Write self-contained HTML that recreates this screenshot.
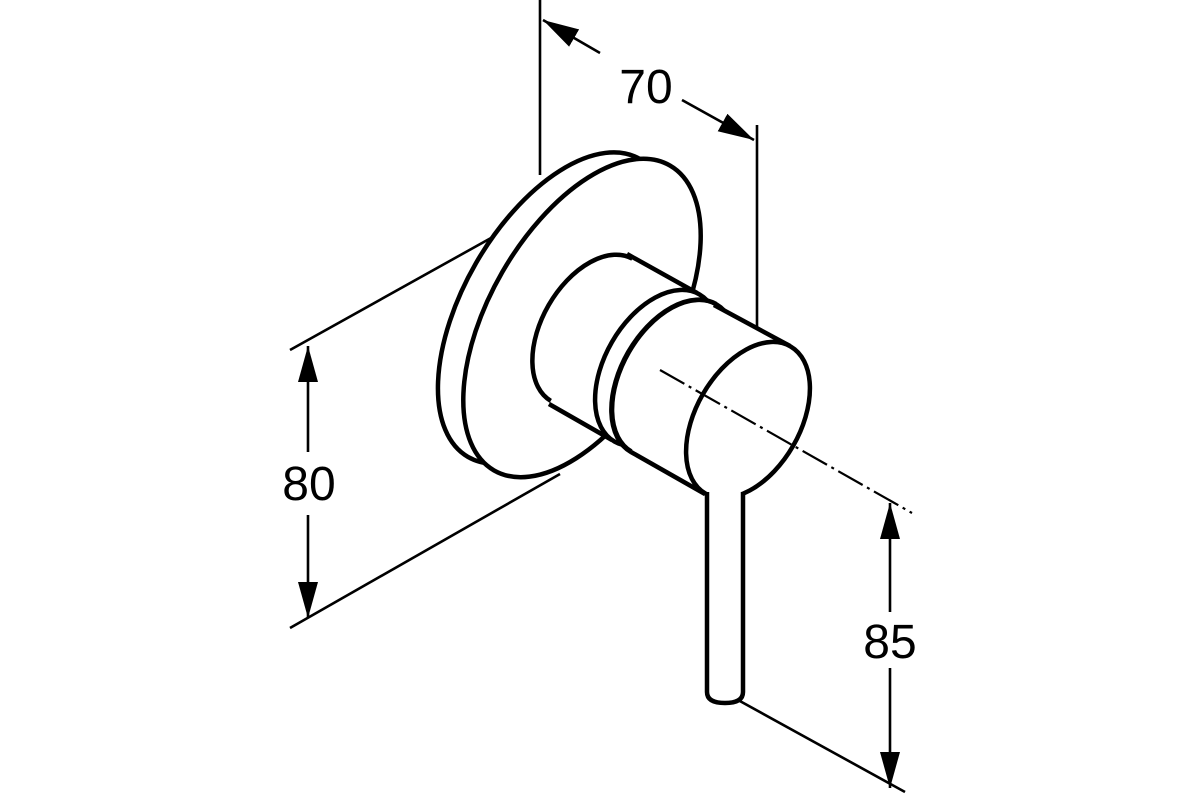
<!DOCTYPE html>
<html><head><meta charset="utf-8"><style>html,body{margin:0;padding:0;background:#fff}svg{display:block}</style></head>
<body>
<svg width="1200" height="800" viewBox="0 0 1200 800" xmlns="http://www.w3.org/2000/svg">
<defs>
<marker id="a" viewBox="0 0 36 20" refX="36" refY="10" markerWidth="36" markerHeight="20" markerUnits="userSpaceOnUse" orient="auto-start-reverse">
<path d="M0,0 L36,10 L0,20 Z" fill="#000"/>
</marker>
</defs>
<g stroke="#000" fill="none" stroke-width="2.6">
<line x1="540" y1="0" x2="540" y2="175"/>
<line x1="757" y1="125" x2="757" y2="415"/>
<line x1="290" y1="350" x2="552" y2="204"/>
<line x1="290" y1="628" x2="560" y2="474"/>
<line x1="738" y1="700" x2="905" y2="792"/>
<line x1="600" y1="53" x2="543" y2="20" marker-end="url(#a)"/>
<line x1="682" y1="100" x2="754" y2="140" marker-end="url(#a)"/>
<line x1="308" y1="452" x2="308" y2="346" marker-end="url(#a)"/>
<line x1="308" y1="515" x2="308" y2="618" marker-end="url(#a)"/>
<line x1="890" y1="612" x2="890" y2="503" marker-end="url(#a)"/>
<line x1="890" y1="668" x2="890" y2="788" marker-end="url(#a)"/>
</g>
<g stroke="#000" stroke-width="4.5" fill="#fff" stroke-linejoin="round">
<ellipse cx="554" cy="308" rx="90" ry="172" transform="rotate(30 554 308)"/>
<ellipse cx="582" cy="318" rx="92" ry="176" transform="rotate(30 582 318)"/>
<ellipse cx="592" cy="330" rx="50" ry="82" transform="rotate(30 592 330)"/>
<polygon points="634,256 697,292 612,442 549,404" stroke="none"/>
<line x1="627" y1="254" x2="697" y2="293"/>
<line x1="549" y1="404" x2="612" y2="440"/>
<ellipse cx="657" cy="368" rx="52" ry="85" transform="rotate(30 657 368)"/>
<polygon points="716,304 790,346 705,494 631,452" stroke="none"/>
<ellipse cx="674" cy="378" rx="52" ry="85" transform="rotate(30 674 378)"/>
<polygon points="716,304 790,346 705,494 631,452" stroke="none"/>
<path d="M716,304 A52,85 30 0 0 631,452" fill="none"/>
<line x1="714" y1="305" x2="790" y2="346"/>
<line x1="631" y1="452" x2="705" y2="494"/>
<ellipse cx="748" cy="420" rx="52" ry="85" transform="rotate(30 748 420)"/>
<path d="M707,492 L707,692 Q707,703 725,703 Q743,703 743,692 L743,492"/>
</g>
<line x1="660" y1="370" x2="912" y2="513" stroke="#000" stroke-width="2.2" stroke-dasharray="28,5,3,5"/>
<g font-family="Liberation Sans, sans-serif" font-size="48" fill="#000" text-anchor="middle">
<text x="646" y="103">70</text>
<text x="309" y="500">80</text>
<text x="890" y="658">85</text>
</g>
</svg>
</body></html>
